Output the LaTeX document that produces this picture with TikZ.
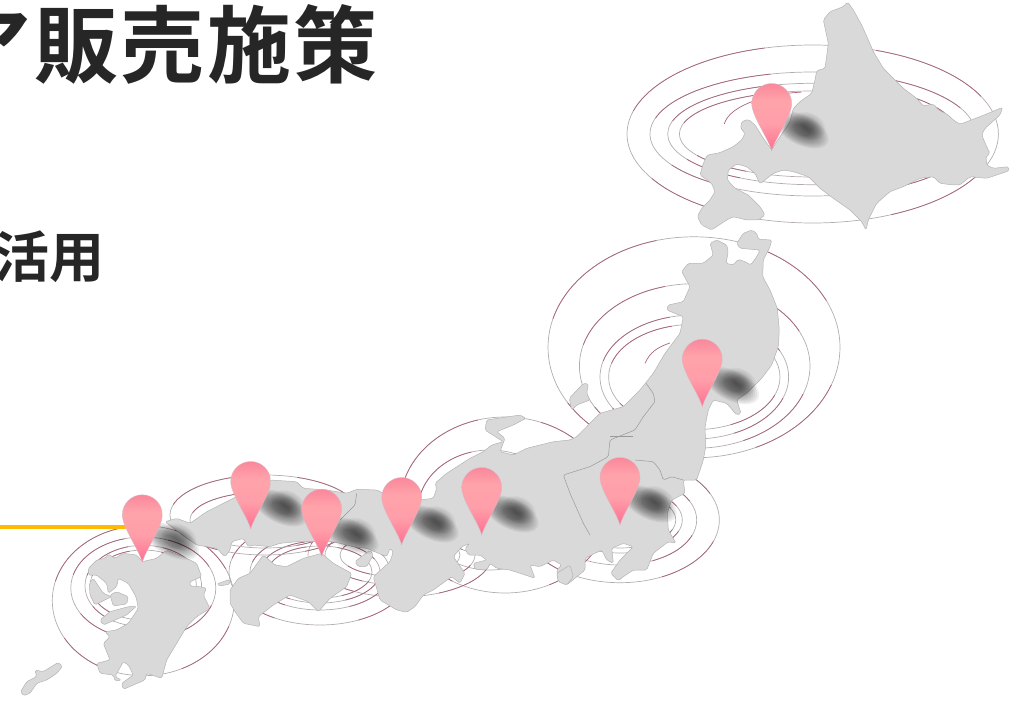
\documentclass[tikz,border=0pt]{standalone}
\usepackage{fontspec}
\newfontfamily\jpfont[BoldFont={Noto Sans CJK JP Bold}]{Noto Sans CJK JP}
\definecolor{landfill}{HTML}{D9D9D9}
\definecolor{landedge}{HTML}{B4B4B4}
\definecolor{ringgrey}{HTML}{B3ACAE}
\definecolor{ringred}{HTML}{A8647A}
\definecolor{inktext}{HTML}{262626}
\definecolor{leader}{HTML}{FFB900}
\pgfdeclareverticalshading{pinshade}{100bp}{
 rgb(0bp)=(1,0.36,0.52);
 rgb(28bp)=(1,0.46,0.58);
 rgb(45bp)=(1,0.62,0.66);
 rgb(62bp)=(1,0.64,0.67);
 rgb(88bp)=(0.96,0.42,0.54);
 rgb(100bp)=(0.97,0.60,0.65)}
\tikzset{
 land/.style={fill=landfill,draw=landedge,line width=.5pt,rounded corners=1.6pt,line join=round},
 border/.style={draw=landedge!85!black,line width=.5pt,rounded corners=1.5pt},
 ringbase/.style={draw=ringgrey,line width=.7pt},
 ringtint/.style={draw=ringred,line width=.7pt},
 pinbody/.style={shading=pinshade,draw=ringred!45!white,line width=.35pt},
 title/.style={inner sep=0pt,text=inktext},
}
% rings: centre x, y, x radius, y radius
\newcommand{\ringset}[4]{%
 \draw[ringbase] (#1,#2) ellipse[x radius=#3,y radius=#4];
 \foreach \a/\b in {195/255,290/335,20/65,120/150}{%
  \draw[ringtint] (#1,#2) ++(\a:#3 and #4) arc[start angle=\a,end angle=\b,x radius=#3,y radius=#4];}%
}
\newcommand{\blobat}[2]{%
 \begin{scope}[shift={(#1,#2)}]
 \foreach \k in {0,...,9}{%
  \fill[black,opacity=.06,rotate around={-26:(30,-21)}] (30,-21) ellipse[x radius={29-2.1*\k},y radius={15-1.1*\k}];
  \fill[black,opacity=.03,rotate around={-26:(37,-25)}] (37,-25) ellipse[x radius={18-1.4*\k},y radius={13-1.0*\k}];}
 \end{scope}}
\newcommand{\pinat}[2]{%
 \path[pinbody,shift={(#1,#2)}] (0,0) .. controls (-3,-12) and (-20,-35) .. (-20,-47.5)
  .. controls (-20,-58.5) and (-11,-67.5) .. (0,-67.5)
  .. controls (11,-67.5) and (20,-58.5) .. (20,-47.5)
  .. controls (20,-35) and (3,-12) .. (0,0) -- cycle;}
\begin{document}
\begin{tikzpicture}[x=1pt,y=-1pt]
\useasboundingbox (0,0) rectangle (1030,701);
\clip (0,0) rectangle (1030,701);
% texts
\node[title,font=\jpfont\bfseries\fontsize{84}{90}\selectfont\addfontfeature{LetterSpace=3},anchor=east] (head) at (378,44) {ア販売施策};
\node[title,font=\jpfont\bfseries\fontsize{55}{58}\selectfont,anchor=east] (sub) at (105,257) {活用};
% rings
\ringset{812.7}{134}{185.7}{89}
\ringset{812.7}{134}{162.7}{62}
\ringset{812.7}{134}{145}{50.7}
\ringset{812.7}{134}{133.3}{43}
\draw[ringtint] (724.3,124) arc[start angle=186,end angle=262,x radius=90,y radius=36];
\ringset{694}{347.3}{146}{110.5}
\ringset{694.7}{366}{115.3}{82.3}
\ringset{694.3}{377}{94.3}{62}
\ringset{694.3}{377}{85.7}{52.7}
\draw[ringtint] (645,363.3) .. controls (650,352) and (658,347) .. (670,343);
\ringset{620}{520}{99.3}{62.7}
\ringset{620}{520}{76.7}{45}
\ringset{620}{520}{62.3}{33}
\ringset{620}{520}{55.7}{28}
\ringset{505}{505}{105}{88}
\ringset{490}{510}{72}{60}
\ringset{490}{515}{55}{40}
\ringset{400}{555}{92}{42}
\ringset{400}{555}{75}{30}
\ringset{400}{555}{60}{22}
\ringset{320}{572}{91}{53}
\ringset{320}{572}{70}{38}
\ringset{320}{572}{60}{31}
\ringset{320}{572}{52}{26}
\ringset{265}{515}{95}{40}
\ringset{265}{520}{75}{28}
\ringset{265}{522}{58}{18}
\ringset{143.3}{600.7}{91}{75}
\ringset{143.3}{588}{72.5}{51}
\ringset{143.3}{586}{58.3}{40.7}
\ringset{143.3}{585}{53}{35}
% Hokkaido
\begin{scope}[shift={(620,0)},x=.33333pt,y=-.33333pt]
\draw[land] (683,6) -- (700,30) -- (725,75) -- (745,120) -- (760,155) -- (790,205) -- (850,265) -- (890,295) -- (910,318) -- (940,312) -- (955,330) -- (965,335) -- (985,345) -- (1000,360) -- (1020,373) -- (1080,350) -- (1148,322) -- (1140,345) -- (1095,385) -- (1085,405) -- (1100,440) -- (1110,460) -- (1098,470) -- (1100,495) -- (1120,505) -- (1165,500) -- (1168,512) -- (1130,525) -- (1100,535) -- (1050,530) -- (1020,555) -- (1000,555) -- (960,550) -- (940,530) -- (900,535) -- (850,560) -- (810,575) -- (770,610) -- (745,660) -- (738,690) -- (725,665) -- (690,630) -- (640,595) -- (600,565) -- (565,530) -- (520,515) -- (490,510) -- (460,520) -- (420,552) -- (405,520) -- (380,500) -- (350,492) -- (325,510) -- (322,540) -- (345,565) -- (385,585) -- (420,620) -- (435,645) -- (415,660) -- (380,660) -- (340,650) -- (320,660) -- (275,690) -- (245,675) -- (232,650) -- (245,625) -- (270,600) -- (285,575) -- (275,550) -- (240,525) -- (250,490) -- (262,465) -- (300,458) -- (340,440) -- (365,420) -- (375,400) -- (362,385) -- (365,365) -- (385,358) -- (405,375) -- (430,415) -- (455,450) -- (470,425) -- (510,365) -- (520,325) -- (540,305) -- (575,280) -- (585,240) -- (590,212) -- (615,205) -- (625,130) -- (610,60) -- (630,35) -- (670,20) -- cycle;
\end{scope}
% Honshu
\draw[land] (710,243.3) -- (716.7,240) -- (726.7,245) -- (728.3,251.7) -- (726,263.3) -- (733.3,265) -- (738.3,259.3) -- (745,261.7) -- (750.7,265) -- (756.7,256.7) -- (760,250) -- (740,248.3) -- (736.7,243.3) -- (743.3,233.3) -- (751.7,230) -- (756.7,233.3) -- (758.3,239.3) -- (771.7,240) -- (770,246.7) -- (763.3,260) -- (762.7,276.7) -- (770,290) -- (777.3,308.3) -- (779.3,330) -- (778.3,346.7) -- (771.7,365) -- (761.7,378.3) -- (746.7,393.3) -- (736.7,400) -- (741,413.3) -- (736.7,415) -- (726.7,403.3) -- (713.3,400) -- (708.3,410) -- (705,426.7) -- (705.7,446.7) -- (703.3,460) -- (696.7,480) -- (683.3,480) -- (685,493.3) -- (671.7,500) -- (667.3,513.3) -- (668.3,530) -- (676,543.3) -- (668.3,541.7) -- (653.3,553.3) -- (646.7,570) -- (633.3,570) -- (623.3,576.7) -- (618.3,580.7) -- (610.7,573.3) -- (620,560) -- (633.3,546.7) -- (623.3,543.3) -- (611.7,548.3) -- (613.3,563.3) -- (606.7,560) -- (601.7,550) -- (585,558.3) -- (585,570) -- (566.7,585) -- (558.3,580) -- (556.7,570) -- (561.7,565) -- (553.3,560) -- (540,566.7) -- (530,565) -- (535,578.3) -- (520,573.3) -- (510,570) -- (496.7,568.3) -- (490,563.3) -- (486.7,570) -- (475,569.3) -- (473.3,563.3) -- (486.7,560) -- (480,555) -- (468.3,555) -- (465,548.3) -- (470,543.3) -- (461.7,546.7) -- (453.3,556.7) -- (465,573.3) -- (460,583.3) -- (451.7,576.7) -- (433.3,590) -- (423.3,595) -- (415,606.7) -- (406.7,612.3) -- (396.7,610) -- (380,600) -- (373.3,576.7) -- (390,561.7) -- (393.3,551.7) -- (390,548.3) -- (386.7,556.7) -- (366.7,548.3) -- (353.3,546.7) -- (333.3,541.7) -- (313.3,541.7) -- (296.7,541.7) -- (280,543.3) -- (270,546.7) -- (253.3,545) -- (248.3,546.7) -- (243.3,538.3) -- (231.7,541.7) -- (230,550) -- (225,556.7) -- (216.7,548.3) -- (196.7,545) -- (186.7,538.3) -- (165,521.7) -- (176.7,518.3) -- (190,523.3) -- (206.7,511.7) -- (230,500) -- (250,490) -- (270,480) -- (296.7,481.7) -- (303.3,488.3) -- (326.7,490) -- (346.7,493.3) -- (356.7,489.3) -- (376.7,490) -- (383.3,493.3) -- (420,500) -- (433.3,498.3) -- (436.7,488.3) -- (435,483.3) -- (446.7,473.3) -- (470,458.3) -- (483.3,451.7) -- (491.7,445) -- (503.3,441.7) -- (485,430) -- (486.7,420) -- (520,415) -- (526,418.3) -- (513.3,425) -- (496.7,431.7) -- (505,438.3) -- (500,451.7) -- (513.3,455) -- (526.7,448.3) -- (553.3,441.7) -- (570,440) -- (576.7,436.7) -- (593.3,420) -- (600,413.3) -- (623.3,406.7) -- (640,390) -- (653.3,373.3) -- (665,353.3) -- (680,333.3) -- (683.3,316.7) -- (666.7,310) -- (668.3,305) -- (683.3,301.7) -- (690,286.7) -- (681.7,271.7) -- (688.3,263.3) -- (703.3,263.3) -- (713.3,255) -- cycle;
% Sado, borders
\begin{scope}[shift={(540,230)},x=.33333pt,y=-.33333pt]
\draw[land] (88,505) -- (130,460) -- (145,462) -- (140,490) -- (150,510) -- (110,525) -- (95,540) -- cycle;
\draw[border] (318,460) -- (340,490) -- (345,515) -- (310,560) -- (285,600) -- (210,630) -- (205,680) -- (150,710) -- (70,735) -- (90,790) -- (130,880) -- (150,915);
\draw[border] (285,690) -- (340,695) -- (360,720) -- (370,750) -- (395,740) -- (430,750);
\draw[border] (210,620) -- (280,620);
\end{scope}
% Shikoku and small islands
\begin{scope}[shift={(220,410)},x=.33333pt,y=-.33333pt]
\draw[land] (30,540) -- (55,505) -- (90,490) -- (130,435) -- (165,465) -- (200,470) -- (250,445) -- (305,430) -- (340,460) -- (395,490) -- (380,530) -- (330,565) -- (295,605) -- (265,575) -- (210,555) -- (160,585) -- (115,620) -- (120,650) -- (70,640) -- (45,605) -- (30,580) -- cycle;
\draw[land] (405,455) -- (450,420) -- (460,435) -- (440,470) -- (415,470) -- cycle;
\draw[land] (1010,490) -- (1050,465) -- (1060,500) -- (1040,525) -- (1015,515) -- cycle;
\draw[border] (410,250) -- (405,285) -- (360,330);
\end{scope}
% Kyushu
\begin{scope}[shift={(0,480)},x=.33333pt,y=-.33333pt]
\draw[land] (265,265) -- (290,240) -- (315,235) -- (325,222) -- (345,235) -- (370,220) -- (410,225) -- (427,245) -- (470,235) -- (500,210) -- (560,235) -- (590,250) -- (605,290) -- (570,305) -- (570,318) -- (600,320) -- (620,325) -- (610,345) -- (630,385) -- (590,410) -- (560,440) -- (530,490) -- (500,540) -- (485,595) -- (440,580) -- (435,600) -- (370,628) -- (365,610) -- (400,585) -- (385,555) -- (370,545) -- (345,590) -- (365,600) -- (345,603) -- (340,585) -- (300,580) -- (290,550) -- (330,540) -- (310,490) -- (330,470) -- (315,455) -- (350,450) -- (385,430) -- (415,385) -- (408,350) -- (385,310) -- (355,295) -- (350,320) -- (325,340) -- (320,310) -- (290,285) -- (265,285) -- cycle;
\draw[land] (330,345) -- (350,335) -- (385,350) -- (380,372) -- (340,378) -- cycle;
\draw[land] (300,420) -- (330,395) -- (385,380) -- (410,378) -- (380,405) -- (345,420) -- (310,435) -- cycle;
\draw[land] (268,310) -- (280,295) -- (310,340) -- (335,350) -- (310,362) -- (285,375) -- (270,345) -- cycle;
\draw[land] (62,635) -- (80,605) -- (110,590) -- (105,570) -- (130,575) -- (175,547) -- (187,560) -- (170,580) -- (140,600) -- (110,610) -- (90,640) -- (70,647) -- cycle;
\draw[land] (650,312) -- (690,298) -- (690,312) -- (660,318) -- cycle;
\end{scope}
% leader
\coordinate (leadA) at (0,527);
\coordinate (leadB) at (126,527);
\draw[leader,line width=3.6pt] (leadA) -- (leadB);
% shadows
\blobat{771.7}{151}
\blobat{702.3}{406.7}
\blobat{620}{525}
\blobat{481.7}{535}
\blobat{401.7}{545}
\blobat{321.7}{556.7}
\blobat{250.7}{529}
\blobat{142.3}{562.3}
% pins
\pinat{771.7}{151}
\pinat{702.3}{406.7}
\pinat{620}{525}
\pinat{481.7}{535}
\pinat{401.7}{545}
\pinat{250.7}{529}
\pinat{321.7}{556.7}
\pinat{142.3}{562.3}
\end{tikzpicture}
\end{document}
